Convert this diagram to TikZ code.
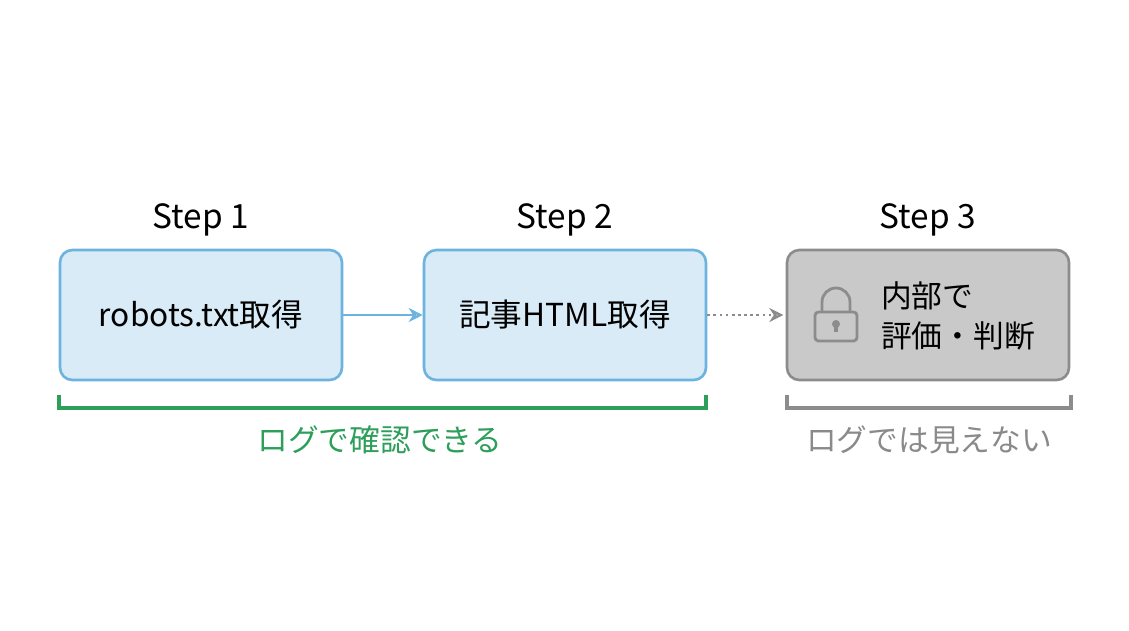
\documentclass[tikz,border=0pt]{standalone}
\usepackage{fontspec}
\setmainfont{Noto Sans CJK JP}
\usetikzlibrary{arrows.meta}
\definecolor{bfill}{HTML}{D8EBF7}
\definecolor{bdraw}{HTML}{6CB3E0}
\definecolor{gfill}{HTML}{C9C9C9}
\definecolor{gdraw}{HTML}{8C8C8C}
\definecolor{grn}{HTML}{2E9E5B}
\definecolor{gtxt}{HTML}{8A8A8A}
\begin{document}
\begin{tikzpicture}[x=0.02cm,y=-0.02cm,
  bbox/.style={draw=bdraw,fill=bfill,line width=1.5pt,rounded corners=7pt,minimum width=5.64cm,minimum height=2.6cm,font=\fontsize{18}{22}\selectfont,align=center},
  gbox/.style={bbox,draw=gdraw,fill=gfill},
  steplbl/.style={font=\fontsize{19}{22}\selectfont}]
\useasboundingbox (0,0) rectangle (1129,630);
\node[bbox] (b1) at (201,315) {robots.txt取得};
\node[bbox] (b2) at (565,315) {記事HTML取得};
\node[gbox] (b3) at (928,315) {};
\node[font=\fontsize{17.5}{23}\selectfont,align=left,anchor=west] (t3) at (875,316) {内部で\\評価・判断};
\node[steplbl] (s1) at (201,220) {Step 1};
\node[steplbl] (s2) at (565,220) {Step 2};
\node[steplbl] (s3) at (928,220) {Step 3};
\draw[bdraw,line width=1.5pt,-{Stealth[length=8pt,width=8pt,open]}] (b1.east) -- (b2.west);
\draw[gdraw,line width=1.5pt,dotted,-{Stealth[length=8pt,width=8pt,open,sep]}] (b2.east) -- (b3.west);
% lock
\node (lock) at (836,318) {};
\draw[gdraw,line width=1.6pt] (822,312) -- (822,302) arc[start angle=180,end angle=360,radius=14] -- (850,312);
\draw[gdraw,line width=1.6pt,rounded corners=2pt,fill=gfill] (815,312) rectangle (857,341);
\fill[gdraw] (836,324) circle (4);
\draw[gdraw,line width=2pt] (836,324) -- (836,332);
% brackets
\coordinate (g1) at (59,395); \coordinate (g2) at (706,395);
\draw[grn,line width=1.8pt] (g1) -- ++(0,13) -| (g2);
\node[grn,font=\fontsize{17.5}{21}\selectfont] (gl) at (380,440) {ログで確認できる};
\coordinate (h1) at (787,395); \coordinate (h2) at (1071,395);
\draw[gdraw,line width=1.8pt] (h1) -- ++(0,13) -| (h2);
\node[gtxt,font=\fontsize{17.5}{21}\selectfont] (hl) at (929,440) {ログでは見えない};
\end{tikzpicture}
\end{document}
